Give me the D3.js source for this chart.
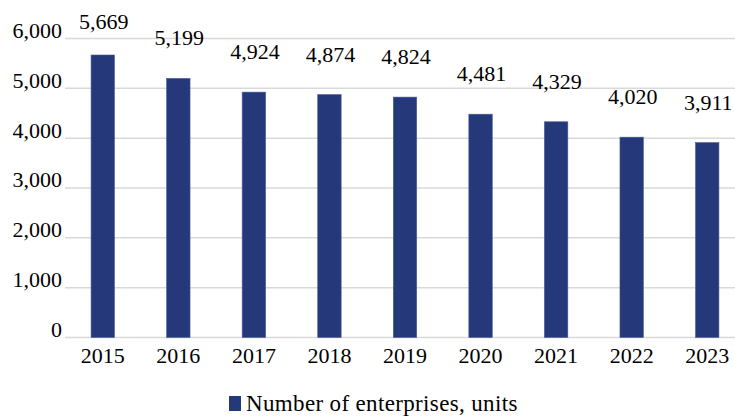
<!DOCTYPE html>
<html>
<head>
<meta charset="utf-8">
<script src="https://cdn.jsdelivr.net/npm/d3@7"></script>
<style>
  html, body { margin: 0; padding: 0; background: #fff; }
  svg text { font-family: "Liberation Serif", "DejaVu Serif", serif; fill: #000; }
</style>
</head>
<body>
<div id="chart"></div>
<script>
var years = ["2015", "2016", "2017", "2018", "2019", "2020", "2021", "2022", "2023"];
var enterprises = [5669, 5199, 4924, 4874, 4824, 4481, 4329, 4020, 3911];
var yTicks = [0, 1000, 2000, 3000, 4000, 5000, 6000];
var seriesName = "Number of enterprises, units";

var W = 735, H = 416;
var plotLeft = 65, plotRight = 745, plotTop = 38.5, plotBottom = 337.5;
var fmt = d3.format(",");

var svg = d3.select("#chart").append("svg")
    .attr("width", W)
    .attr("height", H);

var x = d3.scaleBand()
    .domain(years)
    .range([plotLeft, plotRight])
    .paddingInner(0.69)
    .paddingOuter(0.345);

var y = d3.scaleLinear()
    .domain([0, 6000])
    .range([plotBottom, plotTop]);

// gridlines
svg.append("g")
    .selectAll("line")
    .data(yTicks)
    .enter().append("line")
    .attr("x1", plotLeft)
    .attr("x2", W)
    .attr("y1", function(d) { return y(d); })
    .attr("y2", function(d) { return y(d); })
    .attr("stroke", "#d9d9d9")
    .attr("stroke-width", 1.5);

// y axis labels
var yAxis = d3.axisLeft(y).tickValues(yTicks).tickFormat(fmt).tickSize(0).tickPadding(3);
svg.append("g")
    .attr("transform", "translate(" + plotLeft + ",0)")
    .call(yAxis)
    .call(function(g) {
        g.select(".domain").remove();
        g.selectAll("text")
            .attr("font-size", 22)
            .attr("font-family", null)
            .attr("dy", "-0.05em");
    });

// bars
svg.append("g")
    .selectAll("rect")
    .data(enterprises)
    .enter().append("rect")
    .attr("x", function(d, i) { return x(years[i]); })
    .attr("width", x.bandwidth())
    .attr("y", function(d) { return y(d); })
    .attr("height", function(d) { return y(0) - y(d); })
    .attr("fill", "#24387a")
    .attr("stroke", "#4a5c98")
    .attr("stroke-width", 0.6);

// value labels
svg.append("g")
    .selectAll("text")
    .data(enterprises)
    .enter().append("text")
    .attr("x", function(d, i) { return x(years[i]) + x.bandwidth() / 2 + 1; })
    .attr("y", function(d) { return Math.max(29, y(d) - 33); })
    .attr("text-anchor", "middle")
    .attr("font-size", 22)
    .text(function(d) { return fmt(d); });

// x axis labels
var xAxis = d3.axisBottom(x).tickSize(0).tickPadding(10);
svg.append("g")
    .attr("transform", "translate(0," + plotBottom + ")")
    .call(xAxis)
    .call(function(g) {
        g.select(".domain").remove();
        g.selectAll("text")
            .attr("font-size", 22)
            .attr("font-family", null);
    });

// legend
var legend = svg.append("g").attr("transform", "translate(229,396)");
legend.append("rect")
    .attr("width", 12)
    .attr("height", 15)
    .attr("fill", "#24387a");
legend.append("text")
    .attr("x", 17)
    .attr("y", 14.5)
    .attr("font-size", 23)
    .attr("letter-spacing", 0.35)
    .text(seriesName);
</script>
</body>
</html>
